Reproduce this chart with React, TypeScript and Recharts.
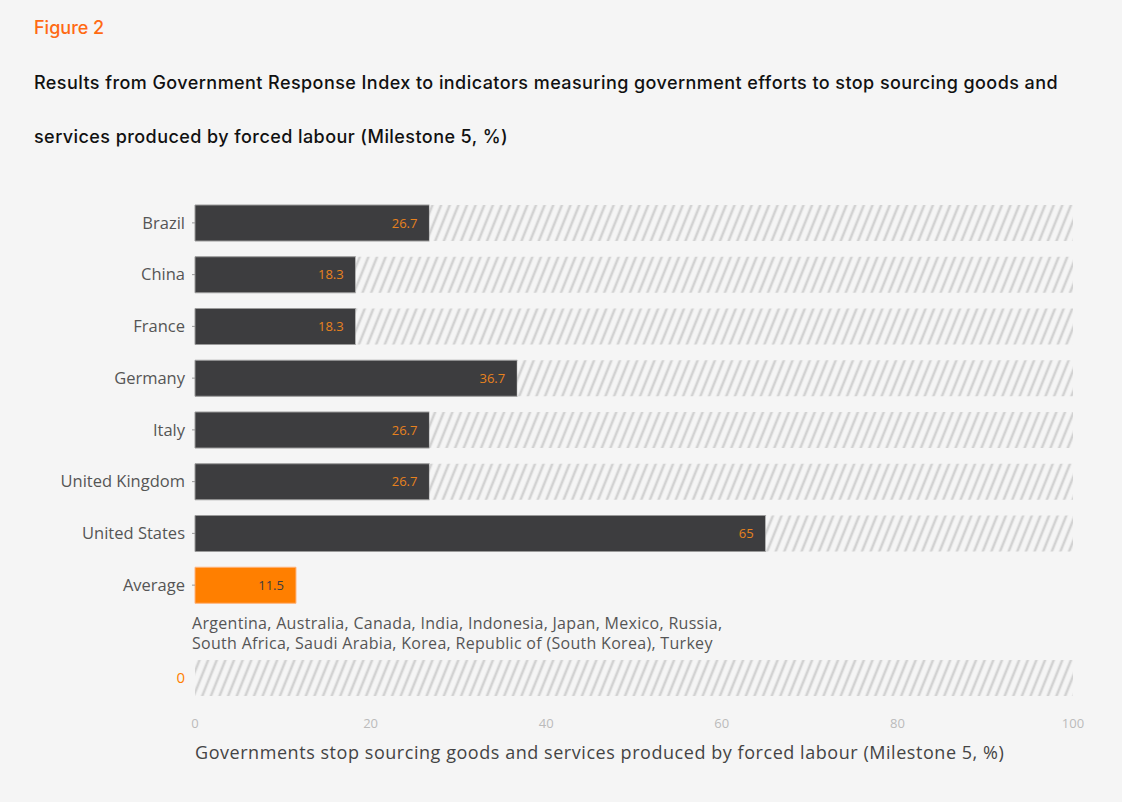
import React from 'react';
import { BarChart, Bar, XAxis, YAxis, Cell, LabelList } from 'recharts';

const categories = ['Brazil', 'China', 'France', 'Germany', 'Italy', 'United Kingdom', 'United States', 'Average'];
const values = [26.7, 18.3, 18.3, 36.7, 26.7, 26.7, 65, 11.5];
const zeroCategories = ['0'];
const zeroValues = [0];
const xTicks = [0, 20, 40, 60, 80, 100];
const zeroCountries = 'Argentina, Australia, Canada, India, Indonesia, Japan, Mexico, Russia, South Africa, Saudi Arabia, Korea, Republic of (South Korea), Turkey';

const DARK = '#3d3d3f';
const ORANGE = '#ff7f00';
const LABEL_ORANGE = '#e8821e';
const BG = '#f5f5f5';
const FONT = '"Open Sans", sans-serif';

const mainData = categories.map((c, i) => ({
  name: c,
  value: values[i],
  rest: c === 'Average' ? 0 : 100 - values[i],
}));
const zeroData = zeroCategories.map((c, i) => ({ name: c, value: zeroValues[i], rest: 100 - zeroValues[i] }));

const Hatch = ({ id }: { id: string }) => (
  <defs>
    <pattern id={id} width="8" height="8" patternUnits="userSpaceOnUse" patternTransform="rotate(22)">
      <rect x="0" y="0" width="8" height="8" fill={BG} />
      <line x1="4" y1="-1" x2="4" y2="9" stroke="#d2d2d2" strokeWidth="2.6" />
    </pattern>
  </defs>
);

const YTick = (props: any) => {
  const { x, y, payload } = props;
  const isZero = payload.value === '0';
  return (
    <text x={x} y={y} dy="0.35em" textAnchor="end" fontFamily={FONT} fontSize={isZero ? 15 : 16.5} fill={isZero ? ORANGE : '#555'}>
      {payload.value}
    </text>
  );
};

export default function App() {
  return (
    <div style={{ position: 'absolute', left: 0, top: 0, width: 1122, height: 802, background: BG, overflow: 'hidden' }}>
      <div style={{ position: 'absolute', left: 34, top: 17, fontFamily: 'Inter, sans-serif', fontSize: 18, fontWeight: 500, color: '#ff6a13', lineHeight: '22px' }}>
        Figure 2
      </div>
      <div style={{ position: 'absolute', left: 34, top: 56, width: 1080, fontFamily: 'Inter, sans-serif', fontSize: 18, fontWeight: 500, color: '#111', lineHeight: '54px', letterSpacing: '0.43px', whiteSpace: 'nowrap' }}>
        Results from Government Response Index to indicators measuring government efforts to stop sourcing goods and
        <br />
        services produced by forced labour (Milestone 5, %)
      </div>

      <div style={{ position: 'absolute', left: 0, top: 197 }}>
        <BarChart width={1122} height={414} data={mainData} layout="vertical" margin={{ top: 0, right: 49, bottom: 0, left: 0 }} barSize={36}>
          <Hatch id="hatchMain" />
          <XAxis type="number" domain={[0, 100]} hide />
          <YAxis type="category" dataKey="name" width={195} axisLine={false} tickLine={{ stroke: '#999' }} tickSize={3} tickMargin={7} tick={<YTick />} interval={0} />
          <Bar dataKey="value" stackId="a" isAnimationActive={false} stroke="#9a9a9a" strokeWidth={1}>
            {mainData.map((d, i) => (
              <Cell key={i} fill={d.name === 'Average' ? ORANGE : DARK} stroke={d.name === 'Average' ? '#ffb27a' : '#9a9a9a'} />
            ))}
            <LabelList
              dataKey="value"
              content={(p: any) => {
                const { x, y, width, height, value, index } = p;
                const isAvg = mainData[index].name === 'Average';
                return (
                  <text x={x + width - 12} y={y + height / 2} dy="0.35em" textAnchor="end" fontFamily={FONT} fontSize={13} fill={isAvg ? DARK : LABEL_ORANGE}>
                    {value}
                  </text>
                );
              }}
            />
          </Bar>
          <Bar dataKey="rest" stackId="a" fill="url(#hatchMain)" isAnimationActive={false} />
        </BarChart>
      </div>

      <div style={{ position: 'absolute', left: 192, top: 613, width: 545, fontFamily: FONT, fontSize: 16, letterSpacing: '0.3px', lineHeight: '20px', color: '#555' }}>
        {zeroCountries}
      </div>

      <div style={{ position: 'absolute', left: 0, top: 652 }}>
        <BarChart width={1122} height={90} data={zeroData} layout="vertical" margin={{ top: 0, right: 49, bottom: 0, left: 0 }} barSize={36}>
          <Hatch id="hatchZero" />
          <XAxis type="number" domain={[0, 100]} ticks={xTicks} axisLine={false} tickLine={false} tickSize={0} tickMargin={15} height={38} tick={{ fill: '#bbb', fontSize: 13, fontFamily: FONT }} />
          <YAxis type="category" dataKey="name" width={195} axisLine={false} tickLine={false} tickSize={3} tickMargin={7} tick={<YTick />} />
          <Bar dataKey="value" stackId="a" fill={DARK} isAnimationActive={false} />
          <Bar dataKey="rest" stackId="a" fill="url(#hatchZero)" isAnimationActive={false} />
        </BarChart>
      </div>

      <div style={{ position: 'absolute', left: 195, top: 740, fontFamily: FONT, fontSize: 18, fontWeight: 500, color: '#444', lineHeight: '24px', letterSpacing: '0.55px', whiteSpace: 'nowrap' }}>
        Governments stop sourcing goods and services produced by forced labour (Milestone 5, %)
      </div>
    </div>
  );
}
